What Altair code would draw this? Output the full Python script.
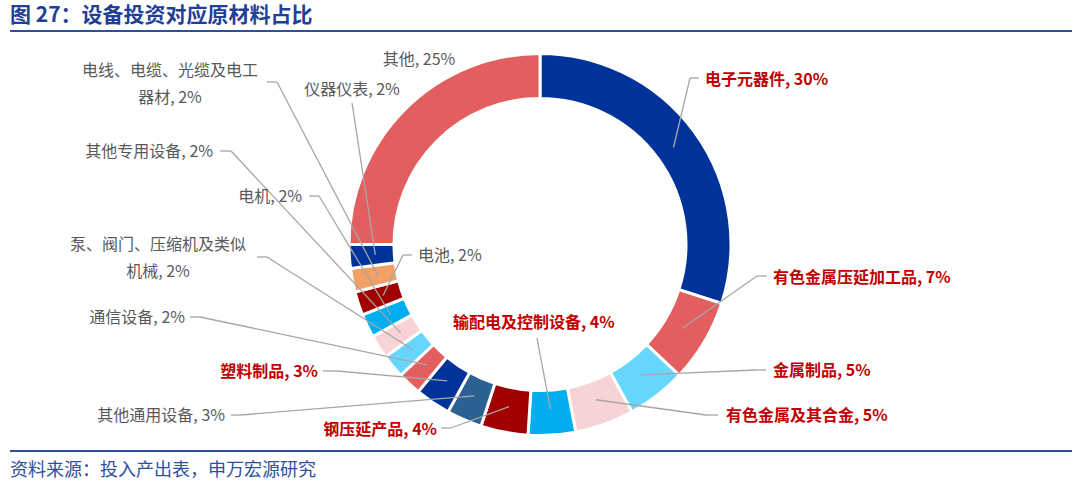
import math
import altair as alt
import pandas as pd

# ---------------- data ----------------
categories = [
    "电子元器件", "有色金属压延加工品", "金属制品", "有色金属及其合金",
    "输配电及控制设备", "钢压延产品", "其他通用设备", "塑料制品",
    "通信设备", "泵、阀门、压缩机及类似机械", "其他专用设备", "电机",
    "电池", "电线、电缆、光缆及电工器材", "仪器仪表", "其他",
]
values = [30, 7, 5, 5, 4, 4, 3, 3, 2, 2, 2, 2, 2, 2, 2, 25]
highlight = [True, True, True, True, True, True, False, True,
             False, False, False, False, False, False, False, False]

# ---------------- styles ----------------
colors = ["#003399", "#E35F5F", "#66D6FF", "#F8D3D5", "#00AEEF", "#A00000",
          "#2B6193", "#003399", "#E35F5F", "#66D6FF", "#F8D3D5", "#00AEEF",
          "#A00000", "#F1A165", "#003399", "#E35F5F"]
FONT = "Noto Sans CJK SC"

# ---------------- label layout ----------------
label_break = {
    "泵、阀门、压缩机及类似机械": "泵、阀门、压缩机及类似\n机械",
    "电线、电缆、光缆及电工器材": "电线、电缆、光缆及电工\n器材",
}
label_x = [705, 773, 773, 726, 453, 437, 225, 318, 185, 158, 213, 302, 418, 170, 352, 419]
label_y = [80, 278, 371, 416, 323, 430, 416, 372, 318, 245, 152, 197, 256, 71, 90, 60]
label_align = ["left", "left", "left", "left", "left", "right", "right", "right",
               "right", "center", "right", "right", "left", "center", "center", "center"]
lead_start = [(699, 78), (767, 276), (766, 370), (718, 415), (537, 338), (441, 428),
              (231, 415), (323, 371), (190, 317), (257, 257), (220, 151), (309, 196),
              (412, 255), (267, 82), (352, 103), None]
lead_elbow = [(690, 78), (757, 276), (756, 370), (706, 415), (537, 338), (451, 428),
              (241, 415), (337, 371), (200, 317), (267, 257), (231, 151), (319, 196),
              (403, 255), (277, 82), (352, 103), None]

W, H = 1080, 489
CX, CY = W / 2, H / 2
R_OUT, R_IN, R_LEAD = 191, 146, 165

total = sum(values)
df = pd.DataFrame({"cat": categories, "value": values, "order": range(len(values)),
                   "color": colors})

# leader end points in the middle of each slice (computed from the data)
segs = []
cum = 0
for i, v in enumerate(values):
    mid = (cum + v / 2) / total * 2 * math.pi
    cum += v
    if lead_start[i] is None:
        continue
    px = CX + R_LEAD * math.sin(mid)
    py = CY - R_LEAD * math.cos(mid)
    (sx, sy), (ex, ey) = lead_start[i], lead_elbow[i]
    if (sx, sy) != (ex, ey):
        segs.append({"x": sx, "y": sy, "x2": ex, "y2": ey})
    segs.append({"x": ex, "y": ey, "x2": px, "y2": py})
seg_df = pd.DataFrame(segs)

labels = []
for i, c in enumerate(categories):
    name = label_break.get(c, c)
    labels.append({"text": f"{name}, {values[i]}%", "x": label_x[i], "y": label_y[i],
                   "align": label_align[i], "hl": highlight[i]})
lab_df = pd.DataFrame(labels)

xs = alt.Scale(domain=[0, W], nice=False, zero=False)
ys = alt.Scale(domain=[H, 0], nice=False, zero=False)

arc = alt.Chart(df).mark_arc(innerRadius=R_IN, outerRadius=R_OUT, stroke="white",
                             strokeWidth=3).encode(
    theta=alt.Theta("value:Q", stack=True),
    order=alt.Order("order:Q", sort="ascending"),
    color=alt.Color("cat:N", scale=alt.Scale(domain=categories, range=colors), legend=None),
)

leaders = alt.Chart(seg_df).mark_rule(color="#A6A6A6", strokeWidth=1.3).encode(
    x=alt.X("x:Q", scale=xs, axis=None),
    y=alt.Y("y:Q", scale=ys, axis=None),
    x2="x2:Q", y2="y2:Q",
)

text_layers = []
for hl in [True, False]:
    for al in ["left", "right", "center"]:
        sub = lab_df[(lab_df["hl"] == hl) & (lab_df["align"] == al)]
        if len(sub) == 0:
            continue
        text_layers.append(
            alt.Chart(sub).mark_text(
                align=al, baseline="middle", font=FONT, fontSize=16,
                fontWeight="bold" if hl else "normal",
                color="#C00000" if hl else "#595959",
                lineBreak="\n", lineHeight=27,
            ).encode(
                x=alt.X("x:Q", scale=xs, axis=None),
                y=alt.Y("y:Q", scale=ys, axis=None),
                text="text:N",
            )
        )

title = alt.Chart(pd.DataFrame({"t": ["图 27：设备投资对应原材料占比"]})).mark_text(
    align="left", baseline="middle", font=FONT, fontSize=21, fontWeight="bold",
    color="#1F3F99",
).encode(x=alt.value(10), y=alt.value(16), text="t:N")

source = alt.Chart(pd.DataFrame({"t": ["资料来源：投入产出表，申万宏源研究"]})).mark_text(
    align="left", baseline="middle", font=FONT, fontSize=18, color="#2E50A0",
).encode(x=alt.value(10), y=alt.value(471), text="t:N")

top_rule = alt.Chart(pd.DataFrame({"a": [0]})).mark_rule(color="#2E4FA0", strokeWidth=2).encode(
    x=alt.value(10), x2=alt.value(1072), y=alt.value(31))
bot_rule = alt.Chart(pd.DataFrame({"a": [0]})).mark_rule(color="#2E4FA0", strokeWidth=2).encode(
    x=alt.value(10), x2=alt.value(1072), y=alt.value(451))

chart = alt.layer(arc, leaders, *text_layers, title, source, top_rule, bot_rule).properties(
    width=W, height=H, padding=0, autosize=alt.AutoSizeParams(type="none"),
    background="white",
).configure_view(stroke=None)

chart.save("out.html", embed_options={"renderer": "svg", "actions": False})
